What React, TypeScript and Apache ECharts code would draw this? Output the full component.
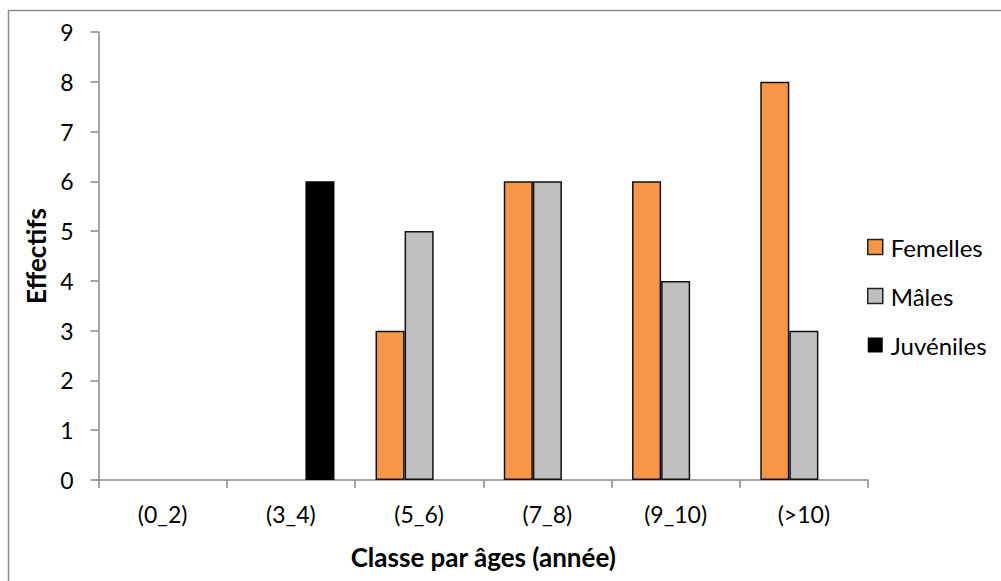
import React, { useEffect, useRef } from "react";
import * as echarts from "echarts";

const categories = ["(0_2)", "(3_4)", "(5_6)", "(7_8)", "(9_10)", "(>10)"];
const femelles = [0, 0, 3, 6, 6, 8];
const males = [0, 0, 5, 6, 4, 3];
const juveniles = [0, 6, 0, 0, 0, 0];
const yTicks = [0, 9, 1];

const FONT = "Lato, 'Open Sans', sans-serif";

const hideZero = (arr: number[]) => arr.map((v) => (v === 0 ? "-" : v));

export default function App() {
  const ref = useRef<HTMLDivElement>(null);
  useEffect(() => {
    if (!ref.current) return;
    const chart = echarts.init(ref.current, null, { renderer: "svg" });
    const axisColor = "#888888";
    const barBorder = { borderColor: "#111111", borderWidth: 1.5 };
    chart.setOption({
      animation: false,
      backgroundColor: "#ffffff",
      textStyle: { fontFamily: FONT },
      graphic: [
        {
          type: "rect",
          shape: { x: 8.5, y: 10.5, width: 1100, height: 700 },
          style: { fill: "none", stroke: "#8c8c8c", lineWidth: 1.5 },
          silent: true,
        },
      ],
      grid: { left: 98.5, right: 133, top: 32, bottom: 101, containLabel: false },
      legend: {
        orient: "vertical",
        left: 867,
        top: 235,
        padding: 0,
        icon: "rect",
        itemWidth: 15,
        itemHeight: 15,
        itemGap: 25,
        textStyle: { fontSize: 24, color: "#000", fontFamily: FONT, padding: [0, 0, 0, 3] },
        data: [
          { name: "Femelles", itemStyle: { color: "#F79646", borderColor: "#222", borderWidth: 1.5 } },
          { name: "Mâles", itemStyle: { color: "#BFBFBF", borderColor: "#222", borderWidth: 1.5 } },
          { name: "Juvéniles", itemStyle: { color: "#000000" } },
        ],
      },
      xAxis: {
        type: "category",
        data: categories,
        name: "Classe par âges (année)",
        nameLocation: "middle",
        nameGap: 64,
        nameTextStyle: { fontSize: 26, fontWeight: "bold", color: "#000", fontFamily: FONT },
        axisLine: { lineStyle: { color: axisColor, width: 1.5 } },
        axisTick: { show: true, length: 8, lineStyle: { color: axisColor, width: 1.5 } },
        axisLabel: { fontSize: 23, color: "#000", margin: 22, fontFamily: FONT },
      },
      yAxis: {
        type: "value",
        min: yTicks[0],
        max: yTicks[1],
        interval: yTicks[2],
        name: "Effectifs",
        nameLocation: "middle",
        nameGap: 50,
        nameRotate: 90,
        nameTextStyle: { fontSize: 26, fontWeight: "bold", color: "#000", fontFamily: FONT },
        axisLine: { show: true, lineStyle: { color: axisColor, width: 1.5 } },
        axisTick: { show: true, length: 8, lineStyle: { color: axisColor, width: 1.5 } },
        splitLine: { show: false },
        axisLabel: { fontSize: 23, color: "#000", margin: 25, fontFamily: FONT },
      },
      series: [
        {
          name: "Femelles",
          type: "bar",
          data: hideZero(femelles),
          barGap: "0%",
          barCategoryGap: "32%",
          itemStyle: { color: "#F79646", ...barBorder },
        },
        {
          name: "Mâles",
          type: "bar",
          data: hideZero(males),
          barGap: "0%",
          barCategoryGap: "32%",
          itemStyle: { color: "#BFBFBF", ...barBorder },
        },
        {
          name: "Juvéniles",
          type: "bar",
          data: hideZero(juveniles),
          barGap: "0%",
          barCategoryGap: "32%",
          itemStyle: { color: "#000000" },
        },
      ],
    });
    return () => chart.dispose();
  }, []);
  return (
    <div
      ref={ref}
      style={{ position: "fixed", left: 0, top: 0, width: 1001, height: 581 }}
    />
  );
}
